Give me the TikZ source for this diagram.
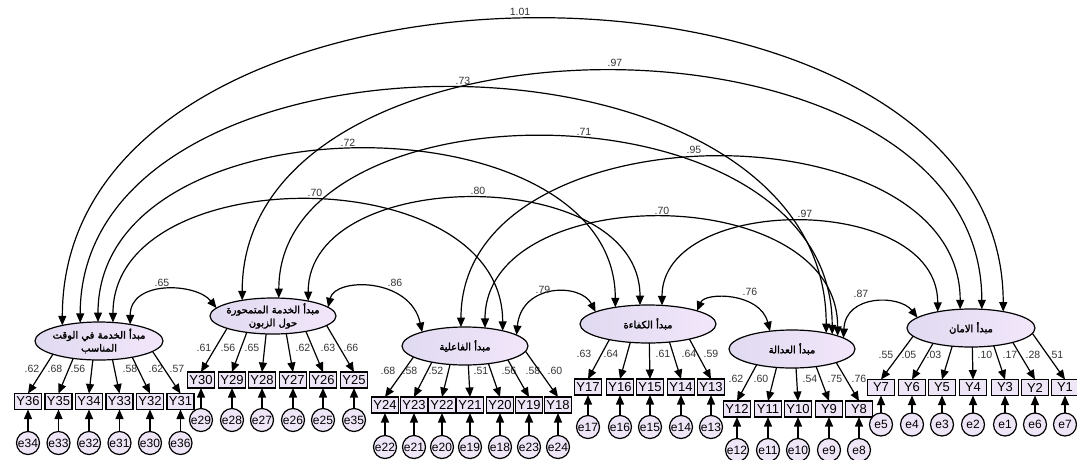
\documentclass[tikz,border=0pt]{standalone}
\usepackage{fontspec}
\setmainfont{Liberation Sans}
\newfontfamily\arabicfont[Script=Arabic,FakeBold=2]{DejaVu Sans}
\TeXXeTstate=1
\usetikzlibrary{shapes.geometric,arrows.meta}

\definecolor{latentleft}{RGB}{224,218,240}
\definecolor{latentright}{RGB}{242,230,250}
\definecolor{itemfill}{RGB}{238,229,246}

\tikzset{
  latent/.style={draw, ellipse, left color=latentleft, right color=latentright, minimum width=#1, minimum height=38pt, inner sep=0pt, outer sep=0pt},
  ftext/.style={font=\arabicfont\fontsize{10}{13}\selectfont, align=center, inner sep=0pt},
  indicator/.style={draw, fill=itemfill, minimum width=27pt, minimum height=16pt, inner sep=0pt, outer sep=0pt, font=\fontsize{13}{13}\selectfont},
  residual/.style={draw, circle, fill=itemfill, minimum size=23pt, inner sep=0pt, outer sep=0pt, font=\fontsize{12}{12}\selectfont},
  coef/.style={inner sep=0pt, text=black!80, font=\fontsize{10.5}{10.5}\selectfont}
}

\begin{document}
\begin{tikzpicture}[x=1pt, y=-1pt, line width=1.2pt, >={Triangle[length=9.5pt,width=8pt]}]
\useasboundingbox (0,0) rectangle (1077,459);

% factors
\node[latent=128pt, label={[ftext]center:{\beginR مبدأ الخدمة في الوقت\endR\\\beginR المناسب\endR}}] (F1) at (99,341) {};
\node[latent=126pt, minimum height=36pt, label={[ftext]center:{\beginR مبدأ الخدمة المتمحورة\endR\\\beginR حول الزبون\endR}}] (F2) at (273,316) {};
\node[latent=126pt, label={[ftext]center:{\beginR مبدأ الفاعلية\endR}}] (F3) at (465,346) {};
\node[latent=136pt, label={[ftext]center:{\beginR مبدأ الكفاءة\endR}}] (F4) at (648,324) {};
\node[latent=126pt, label={[ftext]center:{\beginR مبدأ العدالة\endR}}] (F5) at (792,349) {};
\node[latent=128pt, label={[ftext]center:{\beginR مبدأ الامان\endR}}] (F6) at (971,328) {};

% covariances
\draw[<->] (F1.157) .. controls +(0,-405) and +(0,-391) .. (F6.27);
\draw[<->] (F2.153) .. controls +(0,-306) and +(0,-315) .. (F6.60);
\draw[<->] (F1.136) .. controls +(0,-314) and +(0,-324) .. (F5.25);
\draw[<->] (F1.93) .. controls +(0,-227) and +(0,-212) .. (F4.153);
\draw[<->] (F2.72) .. controls +(0,-220) and +(0,-256) .. (F5.20);
\draw[<->] (F3.102) .. controls +(0,-222) and +(0,-205) .. (F6.120);
\draw[<->] (F1.53) .. controls +(0,-164) and +(0,-172) .. (F3.22);
\draw[<->] (F2.23) .. controls +(0,-137) and +(0,-141) .. (F4.113);
\draw[<->] (F3.42) .. controls +(0,-148) and +(0,-156) .. (F5.16);
\draw[<->] (F4.53) .. controls +(0,-112) and +(0,-119) .. (F6.154);
\draw[<->] (F1.28) .. controls +(0,-45) and +(-20,-25) .. (F2.172);
\draw[<->] (F2.9) .. controls +(7,-30) and +(-12,-55) .. (F3.162);
\draw[<->] (F3.12) .. controls +(5,-52) and +(-15,-29) .. (F4.167);
\draw[<->] (F4.15) .. controls +(8,-19) and +(-10,-39) .. (F5.141);
\draw[<->] (F5.12) .. controls +(2,-44) and +(-18,-23) .. (F6.169);

\node[coef] (c16) at (520,12) {1.01};
\node[coef] (c26) at (615,63) {.97};
\node[coef] (c15) at (463,81) {.73};
\node[coef] (c14) at (348,143) {.72};
\node[coef] (c25) at (584,132) {.71};
\node[coef] (c36) at (694,150) {.95};
\node[coef] (c13) at (315,193) {.70};
\node[coef] (c24) at (478,191) {.80};
\node[coef] (c35) at (662,211) {.70};
\node[coef] (c46) at (805,214) {.97};
\node[coef] (c12) at (162,283) {.65};
\node[coef] (c23) at (395,283) {.86};
\node[coef] (c34) at (543,290) {.79};
\node[coef] (c45) at (750,292) {.76};
\node[coef] (c56) at (861,294) {.87};

% indicators of F1
\foreach \n/\x/\e/\w/\lx in {36/28/34/.62/32, 35/58.5/33/.68/55, 34/89/32/.56/78, 33/119.5/31/.58/130, 32/150/30/.62/156, 31/180.5/36/.57/177}{
  \node[indicator] (Y\n) at (\x,401.5) {Y\n};
  \node[residual] (e\e) at (\x,443) {e\e};
  \draw[->] (e\e) -- (Y\n);
  \pgfmathsetmacro\dx{0.65*(\x-99)}
  \pgfmathtruncatemacro\ang{atan2(-19*sqrt(1-(\dx/64)^2),\dx)}
  \draw[->] (F1.\ang) -- (Y\n.north);
  \node[coef] (w\n) at (\lx,369) {\w};
}
% indicators of F2
\foreach \n/\x/\e/\w/\lx in {30/201/29/.61/204, 29/232/28/.56/228, 28/262/27/.65/252, 27/293/26/.62/303, 26/323/25/.63/328, 25/354/35/.66/351}{
  \node[indicator] (Y\n) at (\x,380) {Y\n};
  \node[residual] (e\e) at (\x,420) {e\e};
  \draw[->] (e\e) -- (Y\n);
  \pgfmathsetmacro\dx{0.65*(\x-273)}
  \pgfmathtruncatemacro\ang{atan2(-18*sqrt(1-(\dx/63)^2),\dx)}
  \draw[->] (F2.\ang) -- (Y\n.north);
  \node[coef] (w\n) at (\lx,348) {\w};
}
% indicators of F3
\foreach \n/\x/\e/\w/\lx in {24/385/22/.68/388, 23/414/21/.58/410, 22/442/20/.52/436, 21/470/19/.51/481, 20/500/18/.56/509, 19/529/23/.58/533, 18/558/24/.60/555}{
  \node[indicator] (Y\n) at (\x,405) {Y\n};
  \node[residual] (e\e) at (\x,447) {e\e};
  \draw[->] (e\e) -- (Y\n);
  \pgfmathsetmacro\dx{0.65*(\x-465)}
  \pgfmathtruncatemacro\ang{atan2(-19*sqrt(1-(\dx/63)^2),\dx)}
  \draw[->] (F3.\ang) -- (Y\n.north);
  \node[coef] (w\n) at (\lx,371) {\w};
}
% indicators of F4
\foreach \n/\x/\e/\w/\lx in {17/588/17/.63/584, 16/620/16/.64/611, 15/650/15/.61/663, 14/681/14/.64/689, 13/711/13/.59/711}{
  \node[indicator] (Y\n) at (\x,387) {Y\n};
  \node[residual] (e\e) at (\x,427) {e\e};
  \draw[->] (e\e) -- (Y\n);
  \pgfmathsetmacro\dx{0.65*(\x-648)}
  \pgfmathtruncatemacro\ang{atan2(-19*sqrt(1-(\dx/68)^2),\dx)}
  \draw[->] (F4.\ang) -- (Y\n.north);
  \node[coef] (w\n) at (\lx,354) {\w};
}
% indicators of F5
\foreach \n/\x/\e/\w/\lx in {12/737/12/.62/736, 11/768/11/.60/761, 10/798/10/.54/810, 9/829/9/.75/835, 8/859/8/.76/859}{
  \node[indicator] (Y\n) at (\x,409) {Y\n};
  \node[residual] (e\e) at (\x,450) {e\e};
  \draw[->] (e\e) -- (Y\n);
  \pgfmathsetmacro\dx{0.65*(\x-792)}
  \pgfmathtruncatemacro\ang{atan2(-19*sqrt(1-(\dx/63)^2),\dx)}
  \draw[->] (F5.\ang) -- (Y\n.north);
  \node[coef] (w\n) at (\lx,379) {\w};
}
% indicators of F6
\foreach \n/\x/\e/\w/\lx in {7/881/5/.55/886, 6/912/4/.05/909, 5/942/3/.03/934, 4/973/2/.10/985, 3/1005/1/.17/1010, 2/1035/6/.28/1033, 1/1065/7/.51/1056}{
  \node[indicator] (Y\n) at (\x,387.5) {Y\n};
  \node[residual] (e\e) at (\x,424.5) {e\e};
  \draw[->] (e\e) -- (Y\n);
  \pgfmathsetmacro\dx{0.65*(\x-971)}
  \pgfmathtruncatemacro\ang{atan2(-19*sqrt(1-(\dx/64)^2),\dx)}
  \draw[->] (F6.\ang) -- (Y\n.north);
  \node[coef] (w\n) at (\lx,355) {\w};
}
\end{tikzpicture}
\end{document}
